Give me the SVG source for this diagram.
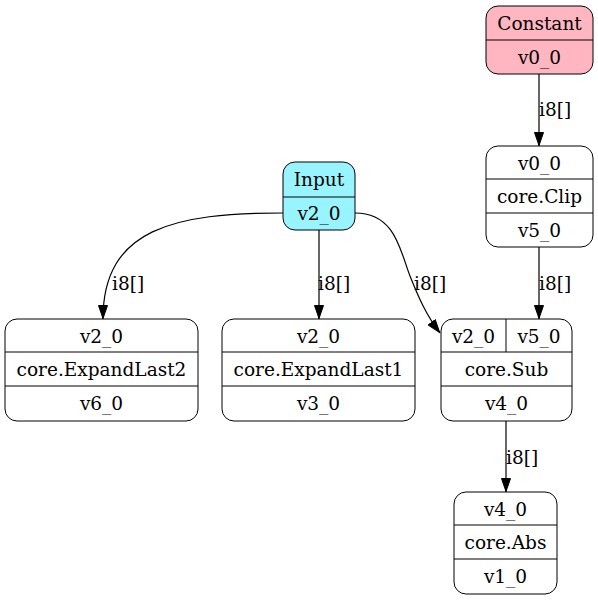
<svg xmlns="http://www.w3.org/2000/svg" width="598" height="601" viewBox="0 0 598 601">
<style>
text{font-family:"DejaVu Serif","Liberation Serif",serif;font-size:18.5px;fill:#000}
.c{text-anchor:middle}
.box{stroke:#000;stroke-width:1;fill:#fff}
.ln{stroke:#000;stroke-width:1;fill:none}
.e{stroke:#000;stroke-width:1.2;fill:none;marker-end:url(#ah)}
</style>
<defs>
<marker id="ah" markerWidth="14" markerHeight="10" refX="14" refY="5" orient="auto" markerUnits="userSpaceOnUse">
<polygon points="0.5,0.5 13.5,5 0.5,9.5" fill="#000" stroke="#000"/>
</marker>
</defs>
<rect width="598" height="601" fill="#fff"/>
<g id="edges">
<path class="e" d="M539,74 L539,146"/>
<text x="539" y="116">i8[]</text>
<path class="e" d="M539,247 L539,319"/>
<text x="539" y="290">i8[]</text>
<path class="e" d="M283,213 C175,213 103,228 103,319"/>
<text x="112" y="290">i8[]</text>
<path class="e" d="M319,230 L319,319"/>
<text x="318" y="290">i8[]</text>
<path class="e" d="M355,213 C395,213 400,250 410,276 C418,296 426,315 440,333"/>
<text x="414" y="290">i8[]</text>
<path class="e" d="M506,421 L506,492"/>
<text x="506" y="464">i8[]</text>
</g>
<g id="Constant">
<rect x="486" y="6" width="107" height="68" rx="12" class="box" style="fill:#ffb6c1"/>
<path class="ln" d="M486,40 H593"/>
<text class="c" x="539.5" y="30">Constant</text>
<text class="c" x="539.5" y="64">v0_0</text>
</g>
<g id="Clip">
<rect x="486" y="146" width="107" height="101" rx="12" class="box"/>
<path class="ln" d="M486,179 H593 M486,213 H593"/>
<text class="c" x="539.5" y="170">v0_0</text>
<text class="c" x="539.5" y="203">core.Clip</text>
<text class="c" x="539.5" y="237">v5_0</text>
</g>
<g id="Input">
<rect x="283" y="162" width="72" height="68" rx="12" class="box" style="fill:#98f5ff"/>
<path class="ln" d="M283,197 H355"/>
<text class="c" x="319" y="186">Input</text>
<text class="c" x="319" y="220">v2_0</text>
</g>
<g id="ExpandLast2">
<rect x="5" y="319" width="193" height="102" rx="12" class="box"/>
<path class="ln" d="M5,352 H198 M5,386 H198"/>
<text class="c" x="101.5" y="343">v2_0</text>
<text class="c" x="101.5" y="376">core.ExpandLast2</text>
<text class="c" x="101.5" y="410">v6_0</text>
</g>
<g id="ExpandLast1">
<rect x="222" y="319" width="193" height="102" rx="12" class="box"/>
<path class="ln" d="M222,352 H415 M222,386 H415"/>
<text class="c" x="318.5" y="343">v2_0</text>
<text class="c" x="318.5" y="376">core.ExpandLast1</text>
<text class="c" x="318.5" y="410">v3_0</text>
</g>
<g id="Sub">
<rect x="441" y="319" width="131" height="102" rx="12" class="box"/>
<path class="ln" d="M441,352 H572 M441,386 H572 M506,319 V352"/>
<text class="c" x="473.5" y="343">v2_0</text>
<text class="c" x="539" y="343">v5_0</text>
<text class="c" x="506.5" y="376">core.Sub</text>
<text class="c" x="506.5" y="410">v4_0</text>
</g>
<g id="Abs">
<rect x="454" y="492" width="103" height="102" rx="12" class="box"/>
<path class="ln" d="M454,525 H557 M454,559 H557"/>
<text class="c" x="505.5" y="516">v4_0</text>
<text class="c" x="505.5" y="549">core.Abs</text>
<text class="c" x="505.5" y="583">v1_0</text>
</g>
</svg>
